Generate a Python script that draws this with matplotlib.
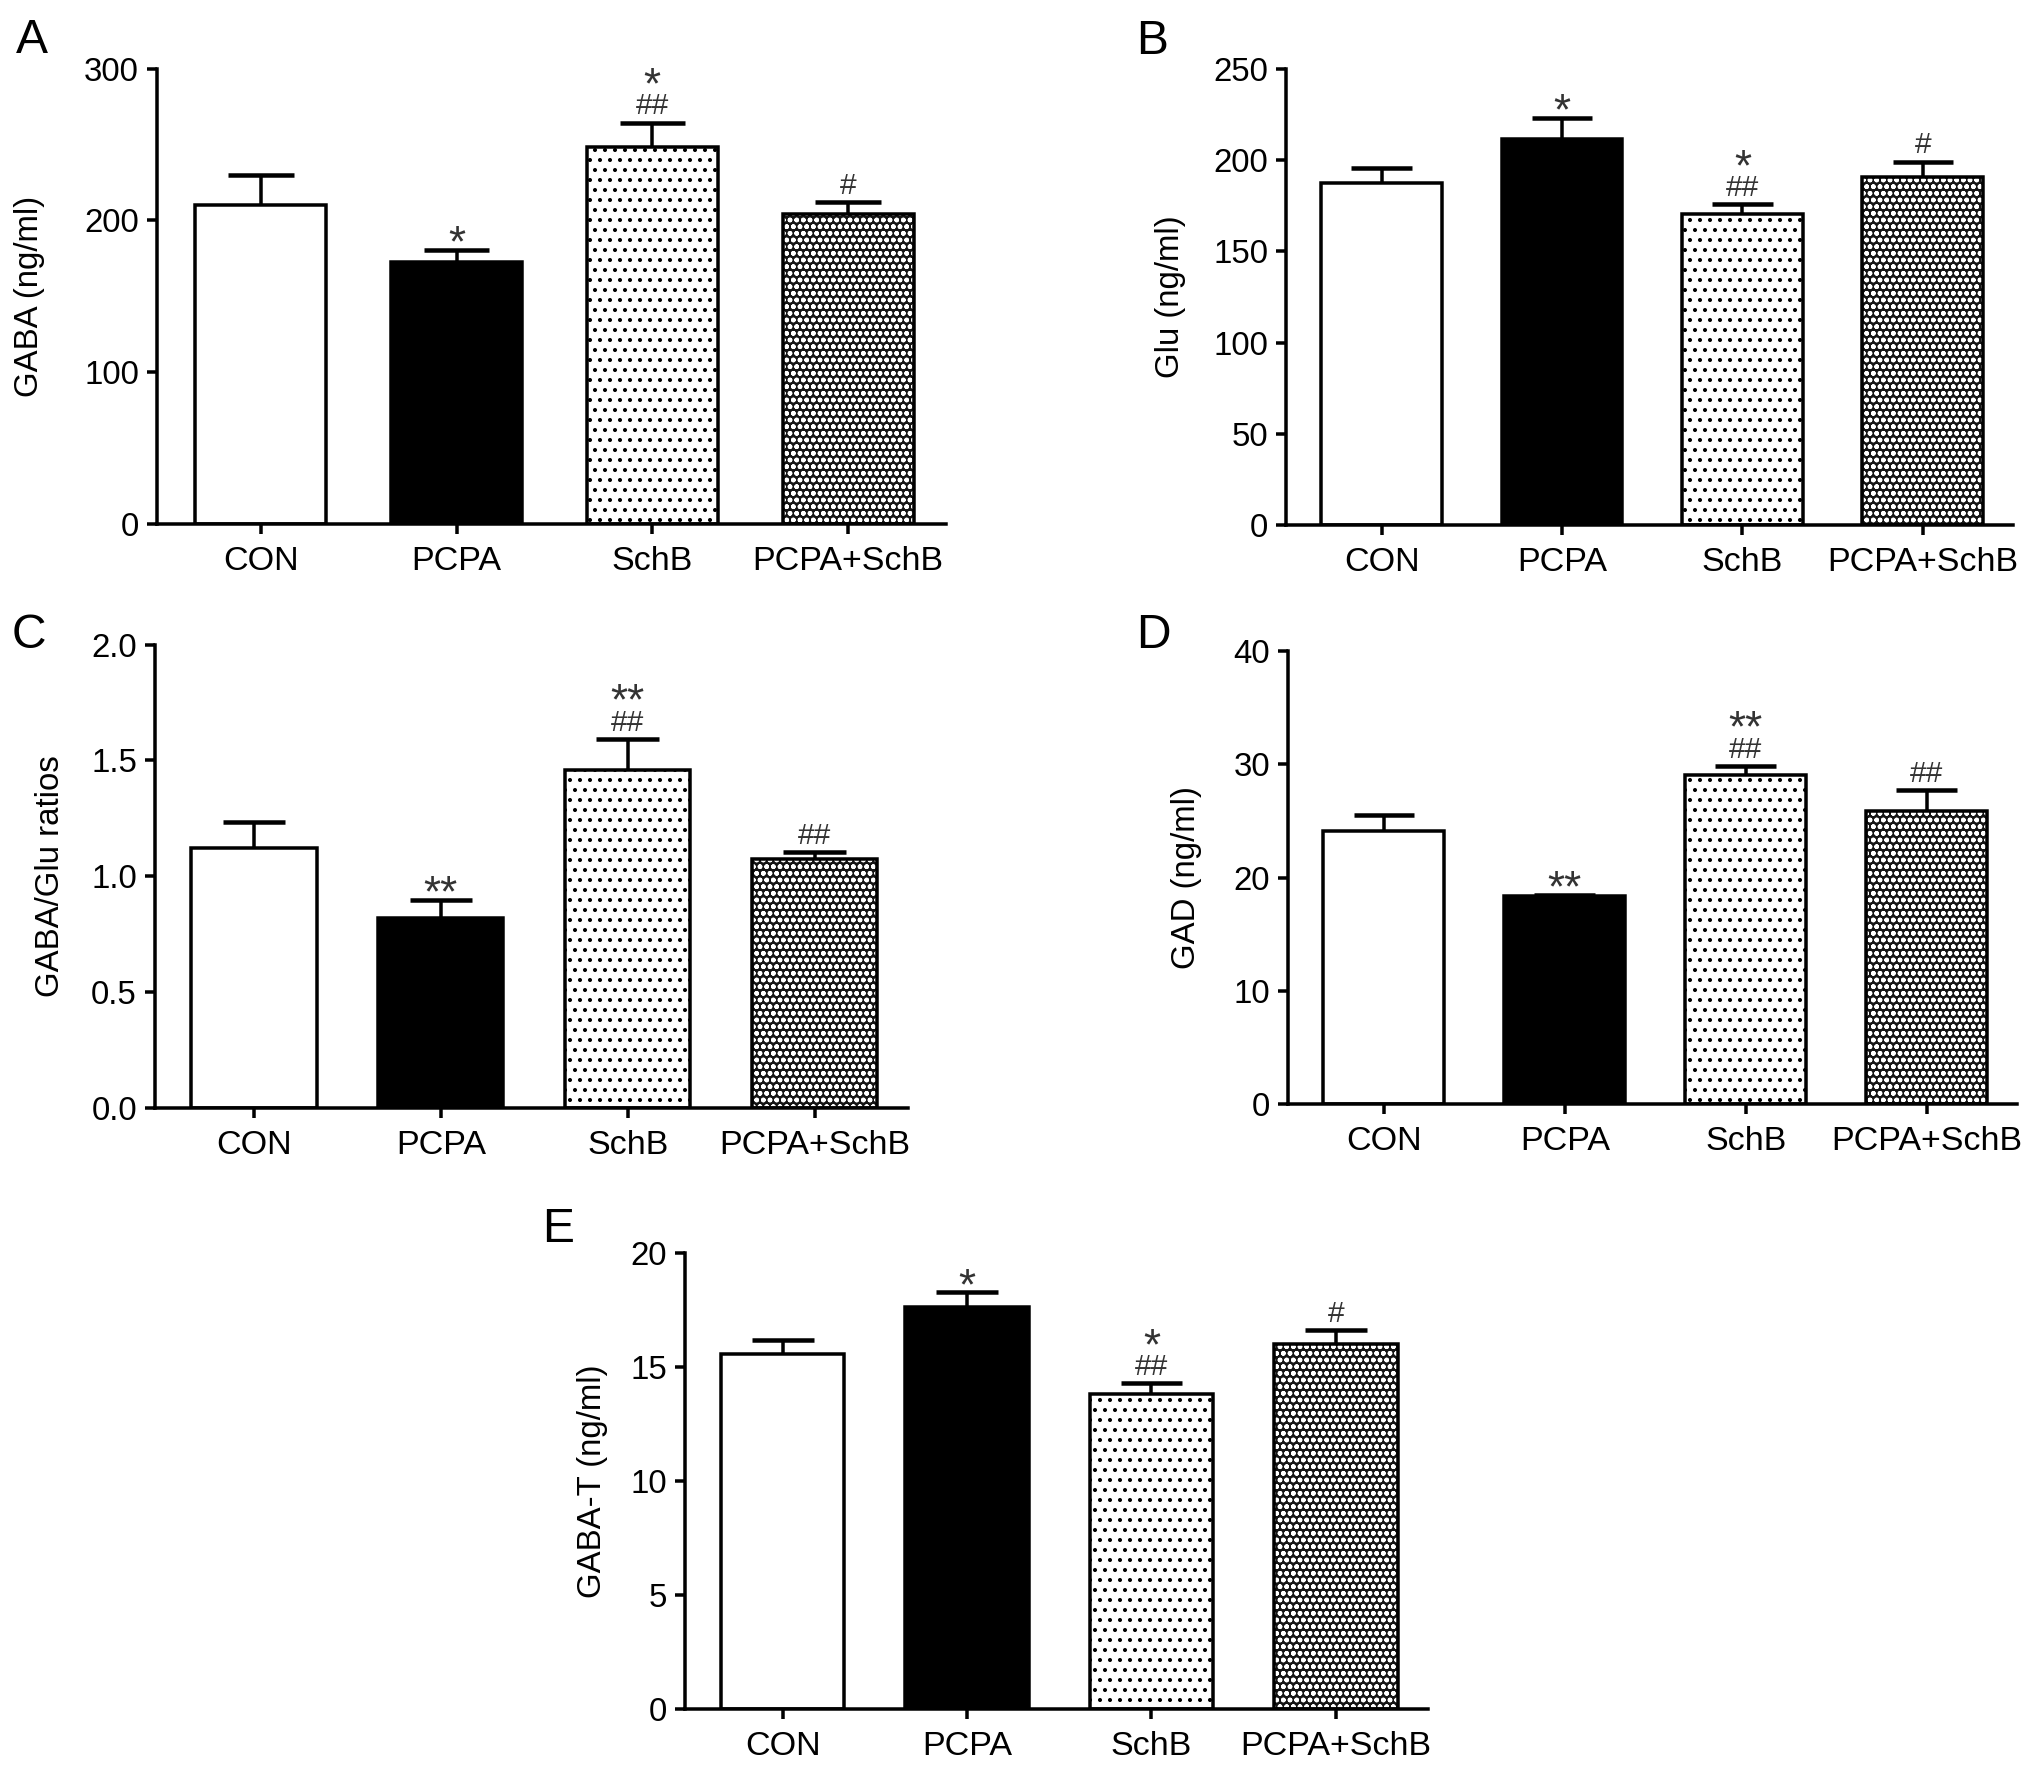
import numpy as np
import matplotlib
matplotlib.use('Agg')
import matplotlib.pyplot as plt

DPI = 120
W, H = 2032, 1771


def pt(px):
    # pixels -> points at the output dpi
    return px * 72.0 / DPI


plt.rcParams['font.family'] = ['Liberation Sans', 'DejaVu Sans']
plt.rcParams['hatch.linewidth'] = 1.2

groups = ['CON', 'PCPA', 'SchB', 'PCPA+SchB']

# A - GABA
gaba_mean = [210, 172.5, 248.5, 204]
gaba_err = [20, 8, 16, 8]
gaba_marks = [[], ['*'], ['##', '*'], ['#']]

# B - Glu
glu_mean = [187.5, 211.5, 170.5, 191]
glu_err = [8, 11.5, 5.3, 8.2]
glu_marks = [[], ['*'], ['##', '*'], ['#']]

# C - GABA/Glu
ratio_mean = [1.12, 0.82, 1.46, 1.075]
ratio_err = [0.115, 0.077, 0.132, 0.03]
ratio_marks = [[], ['**'], ['##', '**'], ['##']]

# D - GAD
gad_mean = [24.1, 18.4, 29.05, 25.9]
gad_err = [1.4, 0.1, 0.75, 1.8]
gad_marks = [[], ['**'], ['##', '**'], ['##']]

# E - GABA-T
gabat_mean = [15.55, 17.65, 13.8, 16.0]
gabat_err = [0.65, 0.62, 0.48, 0.62]
gabat_marks = [[], ['*'], ['##', '*'], ['#']]

fig = plt.figure(figsize=(W / DPI, H / DPI), dpi=DPI)

BAR_W = 0.67
# font size (px) and glyph middle height (fraction of em) for the marks
MARK_EM = {'*': 44, '**': 44, '#': 30, '##': 30}
GLYPH_MID = {'*': 0.58, '**': 0.58, '#': 0.36, '##': 0.36}


def add_marks(ax, x, top, marks):
    centre = 19
    for m in marks:
        em = MARK_EM[m]
        base = centre - GLYPH_MID[m] * em
        ax.annotate(m, (x, top), xytext=(0, pt(base)), textcoords='offset points',
                    ha='center', va='baseline', fontsize=pt(em), color='#333333')
        centre += 31


def panel(rect, letter, letter_pos, means, errs, marks, ylabel, ymax, ystep, label_x, fmt):
    x0, x1, top, bot = rect
    ax = fig.add_axes([x0 / W, 1 - bot / H, (x1 - x0) / W, (bot - top) / H])
    xs = np.arange(len(groups))

    # CON, PCPA, SchB
    ax.bar(xs[0], means[0], BAR_W, facecolor='white', edgecolor='black', linewidth=pt(3.5))
    ax.bar(xs[1], means[1], BAR_W, facecolor='black', edgecolor='black', linewidth=pt(3.5))
    ax.bar(xs[2], means[2], BAR_W, facecolor='white', edgecolor='black', hatch='..',
           linewidth=pt(3.5))
    # PCPA+SchB: dark with white dots, then outline
    ax.bar(xs[3], means[3], BAR_W, facecolor='#151515', edgecolor='white', hatch='ooo',
           linewidth=0)
    ax.bar(xs[3], means[3], BAR_W, fill=False, edgecolor='black', linewidth=pt(3.5))

    tops = np.array(means) + np.array(errs)
    ax.vlines(xs, means, tops, color='black', linewidth=pt(3.5))
    ax.hlines(tops, xs - BAR_W / 4, xs + BAR_W / 4, color='black', linewidth=pt(4.5))

    for x, t, m in zip(xs, tops, marks):
        add_marks(ax, x, t, m)

    ax.set_xlim(-0.53, 3.5)
    ax.set_ylim(0, ymax)
    ticks = np.arange(0, ymax + ystep / 2, ystep)
    ax.set_yticks(ticks)
    ax.set_yticklabels([fmt % v for v in ticks], fontsize=pt(33))
    ax.set_xticks(xs)
    ax.set_xticklabels(groups, fontsize=pt(34))
    ax.tick_params(axis='both', direction='out', length=pt(10), width=pt(3.5))
    ax.tick_params(axis='y', pad=pt(8))
    ax.tick_params(axis='x', pad=pt(12))
    for s in ['top', 'right']:
        ax.spines[s].set_visible(False)
    for s in ['left', 'bottom']:
        ax.spines[s].set_linewidth(pt(3.5))

    ax.set_ylabel(ylabel, fontsize=pt(33), va='center')
    ax.yaxis.set_label_coords((label_x - x0) / (x1 - x0), 0.5)

    fig.text(letter_pos[0] / W, 1 - letter_pos[1] / H, letter, ha='center',
             va='baseline', fontsize=pt(48))
    return ax


panel((157, 946, 68.7, 523.6), 'A', (32, 53), gaba_mean, gaba_err, gaba_marks,
      'GABA (ng/ml)', 300, 100, 29, '%d')
panel((1286, 2013, 69, 525), 'B', (1152, 54), glu_mean, glu_err, glu_marks,
      'Glu (ng/ml)', 250, 50, 1170, '%d')
panel((155, 908, 644.6, 1108), 'C', (29, 648), ratio_mean, ratio_err, ratio_marks,
      'GABA/Glu ratios', 2.0, 0.5, 50, '%.1f')
panel((1288, 2017, 650.6, 1104.4), 'D', (1153, 648), gad_mean, gad_err, gad_marks,
      'GAD (ng/ml)', 40, 10, 1187, '%d')
panel((685, 1428, 1253, 1709), 'E', (558, 1242), gabat_mean, gabat_err, gabat_marks,
      'GABA-T (ng/ml)', 20, 5, 593, '%d')

fig.savefig('out.png', dpi=DPI)
